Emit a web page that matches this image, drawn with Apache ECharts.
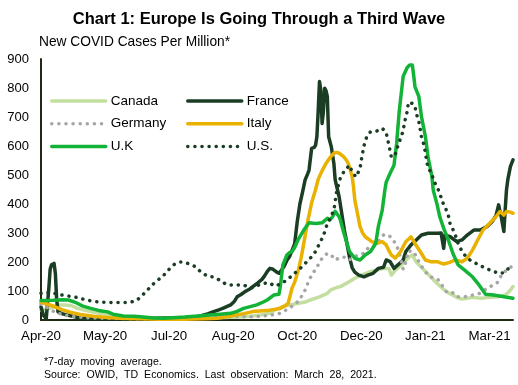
<!DOCTYPE html>
<html>
<head>
<meta charset="utf-8">
<script src="https://cdn.jsdelivr.net/npm/echarts@6/dist/echarts.min.js"></script>
<style>
html,body{margin:0;padding:0;background:#fff;}
#chart{width:518px;height:385px;}
</style>
</head>
<body>
<div id="chart"></div>
<script>
// Day offsets counted from 1 Apr 2020 (day 361 = 28 Mar 2021); values are new cases per million (7-day avg)
const startDate = [2020, 3, 1];
const yTicks = [0, 100, 200, 300, 400, 500, 600, 700, 800, 900];
const monthNames = ['Jan','Feb','Mar','Apr','May','Jun','Jul','Aug','Sep','Oct','Nov','Dec'];

const canada = [[0,34],[4,38],[8,42],[13,52],[18,52],[23,50],[28,40],[33,34],[38,29],[45,23],[53,17],[60,11],[68,8],[80,6],[95,8],[110,9],[125,9],[140,9],[150,10],[160,13],[168,17],[175,23],[180,37],[185,47],[190,52],[196,57],[202,62],[206,69],[213,80],[219,92],[222,105],[226,112],[229,115],[235,130],[240,144],[245,155],[252,167],[257,172],[262,178],[266,178],[268,155],[271,172],[276,190],[280,210],[282,218],[284,224],[287,200],[293,172],[298,149],[303,126],[310,98],[318,78],[322,72],[330,78],[337,75],[342,78],[350,80],[355,86],[358,98],[361,115]];

const france = [[0,45],[2,15],[4,5],[6,110],[7,175],[8,190],[9,185],[10,195],[11,160],[12,70],[13,28],[16,22],[20,17],[25,12],[30,7],[40,5],[50,5],[60,4],[70,4],[80,5],[90,6],[100,7],[110,8],[114,9],[120,12],[124,17],[128,22],[132,29],[136,35],[139,40],[142,46],[145,52],[148,65],[150,80],[153,88],[156,98],[159,105],[162,115],[165,125],[169,140],[171,152],[173,167],[175,178],[177,176],[178,172],[180,166],[182,161],[184,172],[186,185],[188,205],[190,218],[192,240],[194,262],[196,340],[198,400],[200,440],[202,483],[204,505],[205,517],[207,592],[209,595],[210,603],[211,632],[212,720],[213,822],[214,793],[215,678],[216,720],[217,799],[218,790],[219,770],[220,632],[222,598],[224,540],[225,483],[228,425],[230,368],[232,310],[234,264],[236,215],[238,180],[240,165],[243,155],[247,149],[250,155],[254,161],[258,178],[262,182],[264,207],[267,201],[270,178],[273,190],[277,207],[279,236],[283,259],[287,276],[291,293],[296,299],[303,299],[306,300],[307,296],[308,247],[309,295],[311,290],[313,287],[318,270],[322,276],[326,293],[331,310],[336,310],[341,322],[345,339],[348,360],[350,397],[351,375],[352,356],[353,330],[354,305],[355,379],[356,448],[357,483],[359,529],[361,552]];

const germany = [[0,55],[4,45],[7,35],[12,25],[18,17],[25,12],[32,9],[40,7],[50,6],[60,5],[75,4],[90,4],[105,5],[120,7],[135,10],[150,12],[162,11],[170,14],[175,17],[180,20],[183,23],[186,30],[189,40],[194,52],[198,72],[202,103],[205,138],[208,161],[212,190],[215,213],[219,230],[222,224],[225,207],[229,216],[233,216],[236,207],[239,218],[243,224],[247,230],[250,247],[254,253],[258,270],[262,293],[266,293],[268,282],[272,259],[275,215],[277,175],[279,200],[281,238],[285,236],[289,201],[293,172],[296,155],[300,144],[304,138],[307,118],[310,98],[314,98],[318,80],[324,80],[330,86],[336,92],[341,109],[346,121],[350,132],[352,155],[356,172],[359,182],[361,185]];

const italy = [[0,62],[8,50],[16,36],[23,26],[30,19],[40,13],[50,9],[60,6],[75,4],[90,3],[110,3],[125,4],[135,6],[145,14],[155,22],[162,29],[170,32],[175,34],[183,40],[187,50],[189,57],[192,110],[194,130],[197,175],[199,215],[202,290],[204,340],[207,405],[210,450],[212,485],[215,515],[218,540],[221,560],[224,575],[226,578],[228,575],[231,565],[233,555],[235,540],[237,510],[238,494],[239,460],[240,414],[242,368],[244,322],[246,300],[248,287],[253,270],[257,264],[261,270],[264,259],[266,240],[268,224],[271,213],[275,236],[279,270],[283,287],[286,264],[290,236],[294,207],[298,201],[303,201],[308,193],[312,198],[317,207],[322,201],[326,213],[330,241],[334,276],[338,310],[343,333],[348,356],[351,374],[354,362],[356,374],[359,372],[361,368]];

const uk = [[0,67],[9,68],[17,70],[21,69],[25,63],[28,57],[32,48],[38,40],[44,33],[51,28],[55,20],[63,14],[71,13],[76,11],[86,7],[94,6],[101,8],[110,10],[120,14],[129,17],[137,20],[145,23],[150,30],[155,40],[160,46],[165,52],[170,62],[173,69],[178,86],[182,89],[183,115],[185,190],[188,224],[190,232],[192,236],[194,250],[197,280],[201,310],[205,335],[210,333],[215,335],[219,351],[221,345],[223,356],[225,375],[226,374],[228,356],[229,345],[231,310],[234,264],[236,236],[240,213],[244,207],[248,224],[252,236],[256,264],[258,322],[261,379],[263,448],[264,475],[267,506],[270,534],[272,609],[274,720],[275,760],[277,840],[280,870],[282,879],[284,879],[285,845],[286,805],[289,770],[291,701],[294,632],[296,563],[299,494],[300,448],[303,397],[305,356],[308,316],[312,270],[315,230],[319,190],[324,172],[330,149],[335,121],[340,89],[346,86],[354,80],[361,75]];

const us = [[0,92],[4,95],[8,95],[12,90],[17,85],[22,82],[27,78],[33,71],[39,65],[45,62],[50,61],[56,60],[62,60],[67,60],[73,67],[77,83],[81,101],[85,121],[90,140],[94,155],[98,175],[102,192],[106,200],[109,200],[113,194],[118,184],[122,167],[127,152],[133,147],[137,136],[142,122],[148,120],[154,122],[158,115],[162,111],[168,124],[174,129],[179,117],[184,126],[189,141],[193,158],[197,172],[202,195],[206,213],[210,236],[213,264],[216,290],[218,320],[220,340],[224,379],[226,440],[229,491],[232,514],[236,534],[238,510],[241,493],[244,523],[245,552],[247,600],[249,630],[252,649],[257,652],[261,661],[264,646],[266,605],[268,561],[270,566],[272,580],[273,603],[275,626],[277,653],[278,680],[280,718],[281,751],[284,747],[286,738],[287,713],[289,684],[290,658],[291,630],[293,603],[294,575],[295,548],[296,523],[299,506],[300,483],[303,458],[305,437],[307,408],[310,379],[312,354],[313,328],[316,305],[318,278],[320,253],[323,230],[326,213],[330,201],[335,190],[340,178],[345,170],[350,161],[354,163],[356,172],[359,182],[361,185]];

const FONT = '"Liberation Sans", Arial, sans-serif';
const DOTS = [0.1, 7];

function dayLabel(v) {
  if (v % 49 !== 0) return '';
  const d = new Date(startDate[0], startDate[1], startDate[2] + v);
  return monthNames[d.getMonth()] + '-' + String(d.getFullYear()).slice(2);
}

function mk(name, data, color, width, dash, z) {
  return {
    name: name, type: 'line', data: data, symbol: 'none', showSymbol: false,
    z: z, lineStyle: { color: color, width: width, type: dash || 'solid', cap: 'round', join: 'round' },
    itemStyle: { color: color }
  };
}

function legendBlock(names, left) {
  return {
    data: names, orient: 'vertical', left: left, top: 94, padding: 0,
    itemWidth: 54, itemHeight: 14, itemGap: 8.7, selectedMode: false,
    textStyle: { fontSize: 13.5, color: '#000', fontFamily: FONT },
    itemStyle: { opacity: 0, borderWidth: 0 },
    lineStyle: { width: 'inherit', type: 'inherit', cap: 'round', opacity: 1 }
  };
}

const chart = echarts.init(document.getElementById('chart'), null, { renderer: 'canvas' });
chart.setOption({
  animation: false,
  backgroundColor: '#fff',
  textStyle: { fontFamily: FONT },
  grid: { left: 41, right: 5, top: 59, bottom: 65, containLabel: false },
  xAxis: {
    type: 'value', min: 0, max: 361, interval: 49,
    axisLine: { show: true, onZero: true, lineStyle: { color: '#1f2a12', width: 2 } },
    axisTick: { show: false }, splitLine: { show: false },
    axisLabel: { formatter: dayLabel, fontSize: 13.3, color: '#000', margin: 10, showMaxLabel: false, fontFamily: FONT }
  },
  yAxis: {
    type: 'value', min: yTicks[0], max: yTicks[yTicks.length - 1], interval: yTicks[1] - yTicks[0],
    axisLine: { show: true, lineStyle: { color: '#1f2a12', width: 2 } },
    axisTick: { show: false }, splitLine: { show: false },
    axisLabel: { fontSize: 13, color: '#000', margin: 12, fontFamily: FONT }
  },
  legend: [
    legendBlock(['Canada', 'Germany', 'U.K'], 50),
    legendBlock(['France', 'Italy', 'U.S.'], 186)
  ],
  graphic: [
    { type: 'text', left: 'center', top: 11, style: { text: 'Chart 1: Europe Is Going Through a Third Wave', font: 'bold 16.5px ' + FONT, fill: '#000' } },
    { type: 'text', left: 39, top: 35, style: { text: 'New COVID Cases Per Million*', font: '13.75px ' + FONT, fill: '#000' } },
    { type: 'text', left: 44, top: 357, style: { text: '*7-day  moving  average.', font: '10.6px ' + FONT, fill: '#000' } },
    { type: 'text', left: 44, top: 370, style: { text: 'Source:  OWID,  TD  Economics.  Last  observation:  March  28,  2021.', font: '10.6px ' + FONT, fill: '#000' } }
  ],
  series: [
    mk('Canada', canada, '#c3df9f', 3.5, null, 2),
    mk('France', france, '#1a3d24', 3.5, null, 3),
    mk('Germany', germany, '#a6a6a6', 3.5, DOTS, 4),
    mk('Italy', italy, '#e9b100', 3.5, null, 5),
    mk('U.K', uk, '#12b336', 3.5, null, 6),
    mk('U.S.', us, '#1a3d24', 3.5, DOTS, 7)
  ]
});
</script>
</body>
</html>
